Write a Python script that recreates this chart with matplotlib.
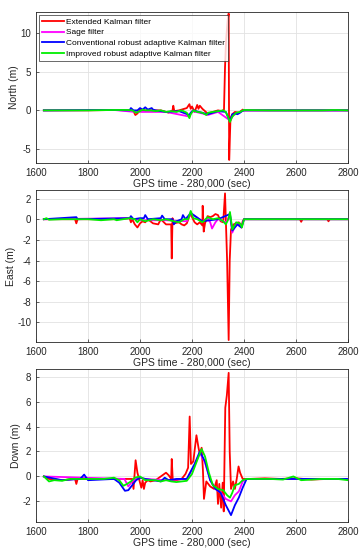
import matplotlib
matplotlib.use('Agg')
import matplotlib.pyplot as plt

plt.rcParams['font.family'] = ['Liberation Sans', 'DejaVu Sans']
plt.rcParams['axes.unicode_minus'] = False

# ---- North ----
ekf_n_t = [1630, 1700, 1800, 1900, 1960, 1975, 1982, 1990, 2000, 2020, 2050, 2080, 2100, 2110, 2125, 2128,
           2132, 2150, 2170, 2180, 2190, 2195, 2200, 2210, 2220, 2225, 2230, 2240, 2250, 2260, 2280, 2300,
           2315, 2323, 2327, 2331, 2337, 2341, 2343, 2348, 2355, 2365, 2380, 2395, 2400, 2500, 2600, 2700, 2800]
ekf_n = [0, 0, 0, 0.05, 0, -0.1, -0.6, -0.4, 0.1, 0, 0, 0, -0.2, -0.3, 0, 0.6,
         -0.1, 0, 0.2, 0.3, 0.8, 0.2, 0.5, -0.2, 0.7, 0.2, 0.6, 0.2, -0.1, -0.4, -0.2, 0,
         -0.1, 0.1, 5.6, 9.0, 11.6, 12.5, -6.4, -1.0, -0.5, -0.2, -0.3, 0.1, 0, 0, 0, 0, 0]
sage_n_t = [1630, 1900, 1980, 2000, 2100, 2190, 2200, 2240, 2260, 2300, 2346, 2360, 2380, 2400, 2800]
sage_n = [0, 0.05, -0.2, -0.2, -0.2, -0.8, -0.1, -0.4, -0.6, -0.2, -1.3, -0.6, -0.3, 0, 0]
crakf_n_t = [1630, 1900, 1960, 1965, 1975, 1990, 2000, 2010, 2020, 2030, 2045, 2050, 2060, 2100, 2150,
             2190, 2195, 2205, 2260, 2300, 2330, 2346, 2355, 2365, 2375, 2385, 2392, 2400, 2800]
crakf_n = [0, 0.05, 0, 0.3, 0, 0, 0.3, 0.1, 0.4, 0.1, 0.3, 0.1, 0, -0.2, -0.1,
           -0.6, -0.3, 0, -0.5, -0.1, -0.2, -1.4, -0.5, -0.4, -0.5, -0.3, -0.1, 0, 0]
irakf_n_t = [1630, 1700, 1800, 1900, 1950, 1970, 1985, 2000, 2010, 2020, 2040, 2060, 2080, 2100, 2120,
             2140, 2160, 2180, 2190, 2195, 2205, 2220, 2240, 2255, 2262, 2280, 2300, 2320, 2330, 2340,
             2346, 2355, 2370, 2385, 2400, 2500, 2600, 2700, 2750, 2800]
irakf_n = [0, 0, 0, 0.05, 0.05, 0, -0.3, -0.1, 0.1, 0, 0, -0.1, 0, -0.2, -0.1,
           -0.2, 0, -0.3, -1.0, -0.5, 0, -0.2, -0.3, -0.6, -0.3, -0.2, -0.1, 0, -0.2, -1.0,
           -1.5, -0.8, -0.3, -0.2, 0.05, 0, 0, 0, 0.05, 0]

# ---- East ----
ekf_e_t = [1630, 1700, 1750, 1755, 1760, 1800, 1900, 1960, 1965, 1970, 1980, 1990, 2000, 2010, 2020, 2030,
           2050, 2070, 2080, 2100, 2110, 2120, 2122, 2125, 2130, 2150, 2160, 2170, 2180, 2190, 2195, 2200,
           2210, 2220, 2230, 2240, 2241, 2245, 2250, 2260, 2270, 2280, 2290, 2300, 2310, 2320, 2327, 2335,
           2341, 2345, 2350, 2360, 2370, 2380, 2390, 2395, 2400, 2500, 2615, 2620, 2625, 2720, 2725, 2730, 2800]
ekf_e = [0, 0, 0, -0.4, 0, 0, 0, 0.1, -0.3, 0, -0.5, -0.8, -0.4, -0.2, -0.3, 0,
         -0.4, -0.5, 0, -0.5, -0.5, -0.5, -3.8, 0.1, -0.4, -0.3, -0.5, -0.6, -0.4, 0.3, 0.5, 0.2,
         -0.3, -0.5, -0.3, -0.6, 1.3, -1.2, -0.4, 0.3, 0.2, 0.3, 0.5, 0.4, -0.2, -0.3, 2.5, -4.0,
         -11.7, -4.0, -1.0, -0.5, -0.4, -0.3, -0.8, -0.2, 0, 0, 0, -0.25, 0, 0, -0.2, 0, 0]
sage_e_t = [1630, 1960, 2000, 2100, 2180, 2195, 2240, 2260, 2270, 2277, 2290, 2300, 2330, 2346, 2355,
            2370, 2390, 2400, 2800]
sage_e = [0, 0.1, -0.1, -0.1, -0.2, 0.6, -0.2, 0.1, -0.3, -0.9, -0.3, 0, -0.3, 0.4, -1.3,
          -0.4, -0.8, 0, 0]
crakf_e_t = [1630, 1755, 1760, 1960, 1965, 1975, 2000, 2015, 2020, 2030, 2080, 2085, 2095, 2125, 2130,
             2140, 2160, 2165, 2175, 2195, 2240, 2300, 2346, 2355, 2375, 2390, 2400, 2800]
crakf_e = [0, 0.2, 0, 0.1, 0.3, 0, 0.1, 0.1, 0.4, 0, 0.1, 0.35, 0, 0, -0.5,
           -0.2, 0, 0.4, 0, 0.6, -0.2, 0, 0.5, -1.1, -0.5, -0.8, 0, 0]
irakf_e_t = [1630, 1640, 1650, 1700, 1750, 1800, 1850, 1900, 1910, 1960, 1980, 1990, 2000, 2020, 2050,
             2080, 2100, 2130, 2150, 2170, 2185, 2195, 2205, 2220, 2240, 2260, 2280, 2300, 2320, 2330,
             2340, 2346, 2355, 2370, 2385, 2392, 2400, 2500, 2600, 2700, 2800]
irakf_e = [0, 0.1, -0.05, 0, 0, 0, -0.1, 0, -0.1, 0.1, 0, -0.3, 0, -0.2, 0,
           -0.1, 0, -0.2, -0.3, 0, 0, 0.8, 0.1, 0, -0.3, 0.2, 0, 0.1, -0.2, -0.5,
           0, 0.7, -1.0, -0.3, -0.4, -0.8, 0, 0, 0, 0, 0]

# ---- Down ----
ekf_d_t = [1630, 1650, 1700, 1750, 1755, 1760, 1800, 1850, 1900, 1950, 1970, 1975, 1983, 1990, 2000, 2005,
           2010, 2015, 2020, 2030, 2040, 2060, 2080, 2100, 2110, 2120, 2122, 2126, 2140, 2160, 2175, 2185,
           2191, 2196, 2205, 2217, 2225, 2230, 2237, 2242, 2246, 2255, 2270, 2285, 2295, 2300, 2305, 2312,
           2318, 2322, 2328, 2334, 2341, 2345, 2350, 2358, 2365, 2372, 2379, 2385, 2395, 2420, 2480, 2540,
           2600, 2660, 2720, 2800]
ekf_d = [0, -0.2, -0.3, -0.2, -0.6, -0.2, -0.2, -0.2, -0.2, -0.2, -0.2, -1.0, 1.3, 0.3, -0.5, -0.9,
         -0.3, -1.0, -0.5, -0.3, -0.4, -0.3, 0, 0.3, 0.1, -0.2, 1.4, -0.3, -0.3, -0.2, 0.2, 0.7,
         4.8, 1.0, 1.2, 3.3, 2.3, 1.8, 2.3, 0.5, -1.8, -0.4, -0.8, -1.0, -0.3, -2.2, -0.6, -2.5,
         -0.5, -2.8, 5.5, 6.5, 8.3, 2.0, -1.0, -0.4, -1.0, -0.2, 0.8, 0.3, -0.2, -0.2, -0.15, -0.2,
         -0.15, -0.25, -0.2, -0.2]
sage_d_t = [1630, 1940, 1955, 1970, 1985, 2000, 2020, 2100, 2180, 2210, 2230, 2250, 2270, 2290, 2310,
            2330, 2350, 2365, 2380, 2395, 2410, 2800]
sage_d = [0, -0.2, -0.8, -0.4, -0.2, -0.1, -0.2, -0.3, -0.2, 0.9, 1.9, 1.1, -0.3, -1.0, -1.3,
          -1.8, -2.0, -1.5, -1.2, -0.4, -0.2, -0.2]
crakf_d_t = [1630, 1700, 1770, 1785, 1800, 1900, 1920, 1942, 1955, 1970, 1985, 2000, 2020, 2080, 2095,
             2110, 2140, 2180, 2210, 2230, 2250, 2270, 2290, 2310, 2330, 2350, 2365, 2380, 2395, 2410, 2800]
crakf_d = [0, -0.3, -0.2, 0.15, -0.3, -0.2, -0.5, -1.15, -1.1, -0.7, -0.3, -0.1, -0.2, -0.4, -0.1,
           -0.3, -0.2, -0.2, 1.0, 2.0, 1.2, -0.3, -1.0, -1.3, -2.3, -3.1, -2.3, -1.7, -0.9, -0.2, -0.2]
irakf_d_t = [1630, 1640, 1650, 1670, 1700, 1730, 1760, 1790, 1820, 1860, 1900, 1920, 1936, 1950, 1965,
             1980, 2000, 2020, 2040, 2060, 2080, 2100, 2120, 2140, 2160, 2180, 2200, 2220, 2237, 2250,
             2265, 2280, 2300, 2320, 2335, 2346, 2355, 2365, 2380, 2395, 2410, 2450, 2500, 2550, 2590,
             2620, 2660, 2700, 2740, 2760, 2800]
irakf_d = [0, -0.2, -0.4, -0.3, -0.35, -0.2, -0.2, -0.2, -0.2, -0.2, -0.1, -0.3, -0.75, -0.6, -0.4,
           -0.1, 0, -0.3, -0.3, -0.3, -0.4, -0.3, -0.4, -0.45, -0.4, -0.35, 0.2, 1.3, 2.2, 1.6,
           0.3, -0.7, -1.0, -1.1, -1.5, -1.7, -1.3, -0.7, -0.6, -0.3, -0.2, -0.2, -0.2, -0.25, 0,
           -0.3, -0.25, -0.2, -0.2, -0.2, -0.3]

labels = ['Extended Kalman filter', 'Sage filter',
          'Conventional robust adaptive Kalman filter', 'Improved robust adaptive Kalman filter']
colors = ['#ff0000', '#ff00ff', '#0000ff', '#00ee00']

panels = [
    ('North (m)', [(ekf_n_t, ekf_n), (sage_n_t, sage_n), (crakf_n_t, crakf_n), (irakf_n_t, irakf_n)],
     (-6.8, 12.7), [-5, 0, 5, 10], [0.099, 0.7036, 0.857, 0.2745]),
    ('East (m)', [(ekf_e_t, ekf_e), (sage_e_t, sage_e), (crakf_e_t, crakf_e), (irakf_e_t, irakf_e)],
     (-11.9, 2.8), [-10, -8, -6, -4, -2, 0, 2], [0.099, 0.378, 0.857, 0.276]),
    ('Down (m)', [(ekf_d_t, ekf_d), (sage_d_t, sage_d), (crakf_d_t, crakf_d), (irakf_d_t, irakf_d)],
     (-3.65, 8.6), [-2, 0, 2, 4, 6, 8], [0.099, 0.0509, 0.857, 0.278]),
]

fig = plt.figure(figsize=(3.64, 5.5), dpi=100)
for i, (ylab, series, ylim, yticks, pos) in enumerate(panels):
    ax = fig.add_axes(pos)
    for (t, v), c, lab in zip(series, colors, labels):
        ax.plot(t, v, color=c, lw=1.3, label=lab)
    ax.set_xlim(1600, 2800)
    ax.set_ylim(*ylim)
    ax.set_xticks([1600, 1800, 2000, 2200, 2400, 2600, 2800])
    ax.set_yticks(yticks)
    ax.grid(True, color='#e2e2e2', lw=0.6)
    ax.set_axisbelow(True)
    ax.tick_params(direction='in', labelsize=7, colors='#262626', length=2.5, width=0.5)
    for s in ax.spines.values():
        s.set_color('#262626')
        s.set_linewidth(0.6)
    ax.set_xlabel('GPS time - 280,000 (sec)', fontsize=7.5, color='#262626', labelpad=1)
    ax.set_ylabel(ylab, fontsize=7.5, color='#262626', labelpad=1)
    if i == 0:
        leg = ax.legend(loc='upper left', fontsize=6, frameon=True, fancybox=False,
                        edgecolor='#262626', borderpad=0.35, labelspacing=0.35,
                        handlelength=2.6, handletextpad=0.3, borderaxespad=0.35)
        leg.get_frame().set_linewidth(0.6)

fig.savefig('out.png', dpi=100)
